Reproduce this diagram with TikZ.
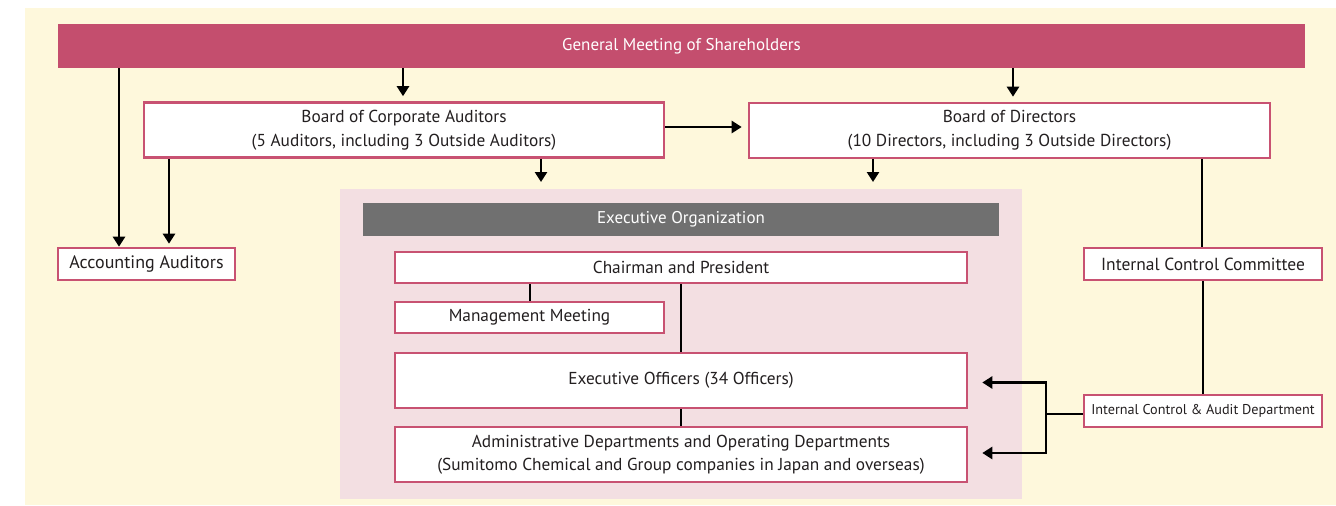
\documentclass[tikz,border=0pt]{standalone}
\usepackage{fontspec}
\setmainfont{PT Sans}
\usetikzlibrary{arrows.meta}
\definecolor{cream}{RGB}{254,248,220}
\definecolor{pinkbg}{RGB}{243,223,226}
\definecolor{barred}{RGB}{196,78,110}
\definecolor{boxc}{RGB}{200,82,114}
\definecolor{grayb}{RGB}{112,112,112}
\definecolor{txt}{RGB}{35,31,32}
\tikzset{
  box/.style={draw=boxc, line width=2.6pt, fill=white, rectangle, inner sep=0pt, text=txt, align=center, font=\fontsize{17.3}{23.5}\selectfont},
  conn/.style={line width=2.8pt, draw=black},
  arr/.style={conn, -{Triangle[length=10pt,width=12pt]}},
}
\begin{document}
\begin{tikzpicture}[x=1pt,y=-1pt]
\useasboundingbox (0,0) rectangle (1336,506);
\fill[cream] (25,8) rectangle (1336,505);
\fill[pinkbg] (340,189) rectangle (1022,499);
\node[fill=barred, minimum width=1247pt, minimum height=44pt, inner sep=0pt, text=white, font=\fontsize{17}{19}\selectfont] (gm) at (681.5,46) {General Meeting of Shareholders};
\node[box, minimum width=520pt, minimum height=55pt] (bca) at (404,130) {Board of Corporate Auditors\\(5 Auditors, including 3 Outside Auditors)};
\node[box, minimum width=521pt, minimum height=55pt] (bod) at (1009.5,130.5) {Board of Directors\\(10 Directors, including 3 Outside Directors)};
\node[box, minimum width=177pt, minimum height=32pt, font=\fontsize{18}{20}\selectfont] (aa) at (146.5,264) {Accounting Auditors};
\node[fill=grayb, minimum width=636pt, minimum height=33pt, inner sep=0pt, text=white, font=\fontsize{17}{19}\selectfont] (eo) at (681,219.5) {Executive Organization};
\node[box, minimum width=572pt, minimum height=31pt] (cp) at (681,267.5) {Chairman and President};
\node[box, minimum width=269pt, minimum height=31pt] (mm) at (529.5,317.5) {Management Meeting};
\node[box, minimum width=572pt, minimum height=55pt] (ex) at (681,380.5) {Executive Officers (34 Officers)};
\node[box, minimum width=572pt, minimum height=55pt] (ad) at (681,454.5) {Administrative Departments and Operating Departments\\(Sumitomo Chemical and Group companies in Japan and overseas)};
\node[box, minimum width=238pt, minimum height=32pt, font=\fontsize{17.5}{20}\selectfont] (icc) at (1203,264) {Internal Control Committee};
\node[box, minimum width=238pt, minimum height=32pt, font=\fontsize{14.2}{16}\selectfont] (ica) at (1203,411) {Internal Control \& Audit Department};
\coordinate (xa) at (119,0);
\coordinate (xb) at (403,0);
\coordinate (xc) at (1013,0);
\coordinate (xd) at (169,0);
\coordinate (xe) at (541,0);
\coordinate (xf) at (873,0);
\coordinate (xg) at (1202,0);
\coordinate (xh) at (530,0);
\coordinate (xi) at (681,0);
\coordinate (pt) at (0,189);
\coordinate (jn) at (1046,414);
\draw[arr] (gm.south -| xa) -- (aa.north -| xa);
\draw[arr, shorten >=5pt] (gm.south -| xb) -- (bca.north -| xb);
\draw[arr, shorten >=5pt] (gm.south -| xc) -- (bod.north -| xc);
\draw[arr, shorten >=6pt] (bca.east) ++(0,-3) coordinate (s1) (s1) -- (bod.west |- s1);
\draw[arr, shorten >=3pt] (bca.south -| xd) -- (aa.north -| xd);
\draw[arr, shorten >=7pt] (bca.south -| xe) -- (pt -| xe);
\draw[arr, shorten >=7pt] (bod.south -| xf) -- (pt -| xf);
\draw[conn] (bod.south -| xg) -- (icc.north -| xg);
\draw[conn] (cp.south -| xh) -- (mm.north -| xh);
\draw[conn] (cp.south -| xi) -- (ex.north -| xi);
\draw[conn] (ex.south) -- (ad.north);
\draw[conn] (icc.south) -- (ica.north);
\draw[conn] (ica.west |- jn) -- (jn);
\draw[arr, shorten >=14pt] (jn) -- ([yshift=-2pt]jn |- ex.east) -- ([yshift=-2pt]ex.east);
\draw[arr, shorten >=14pt] (jn) -- ([yshift=1.5pt]jn |- ad.east) -- ([yshift=1.5pt]ad.east);
\end{tikzpicture}
\end{document}
